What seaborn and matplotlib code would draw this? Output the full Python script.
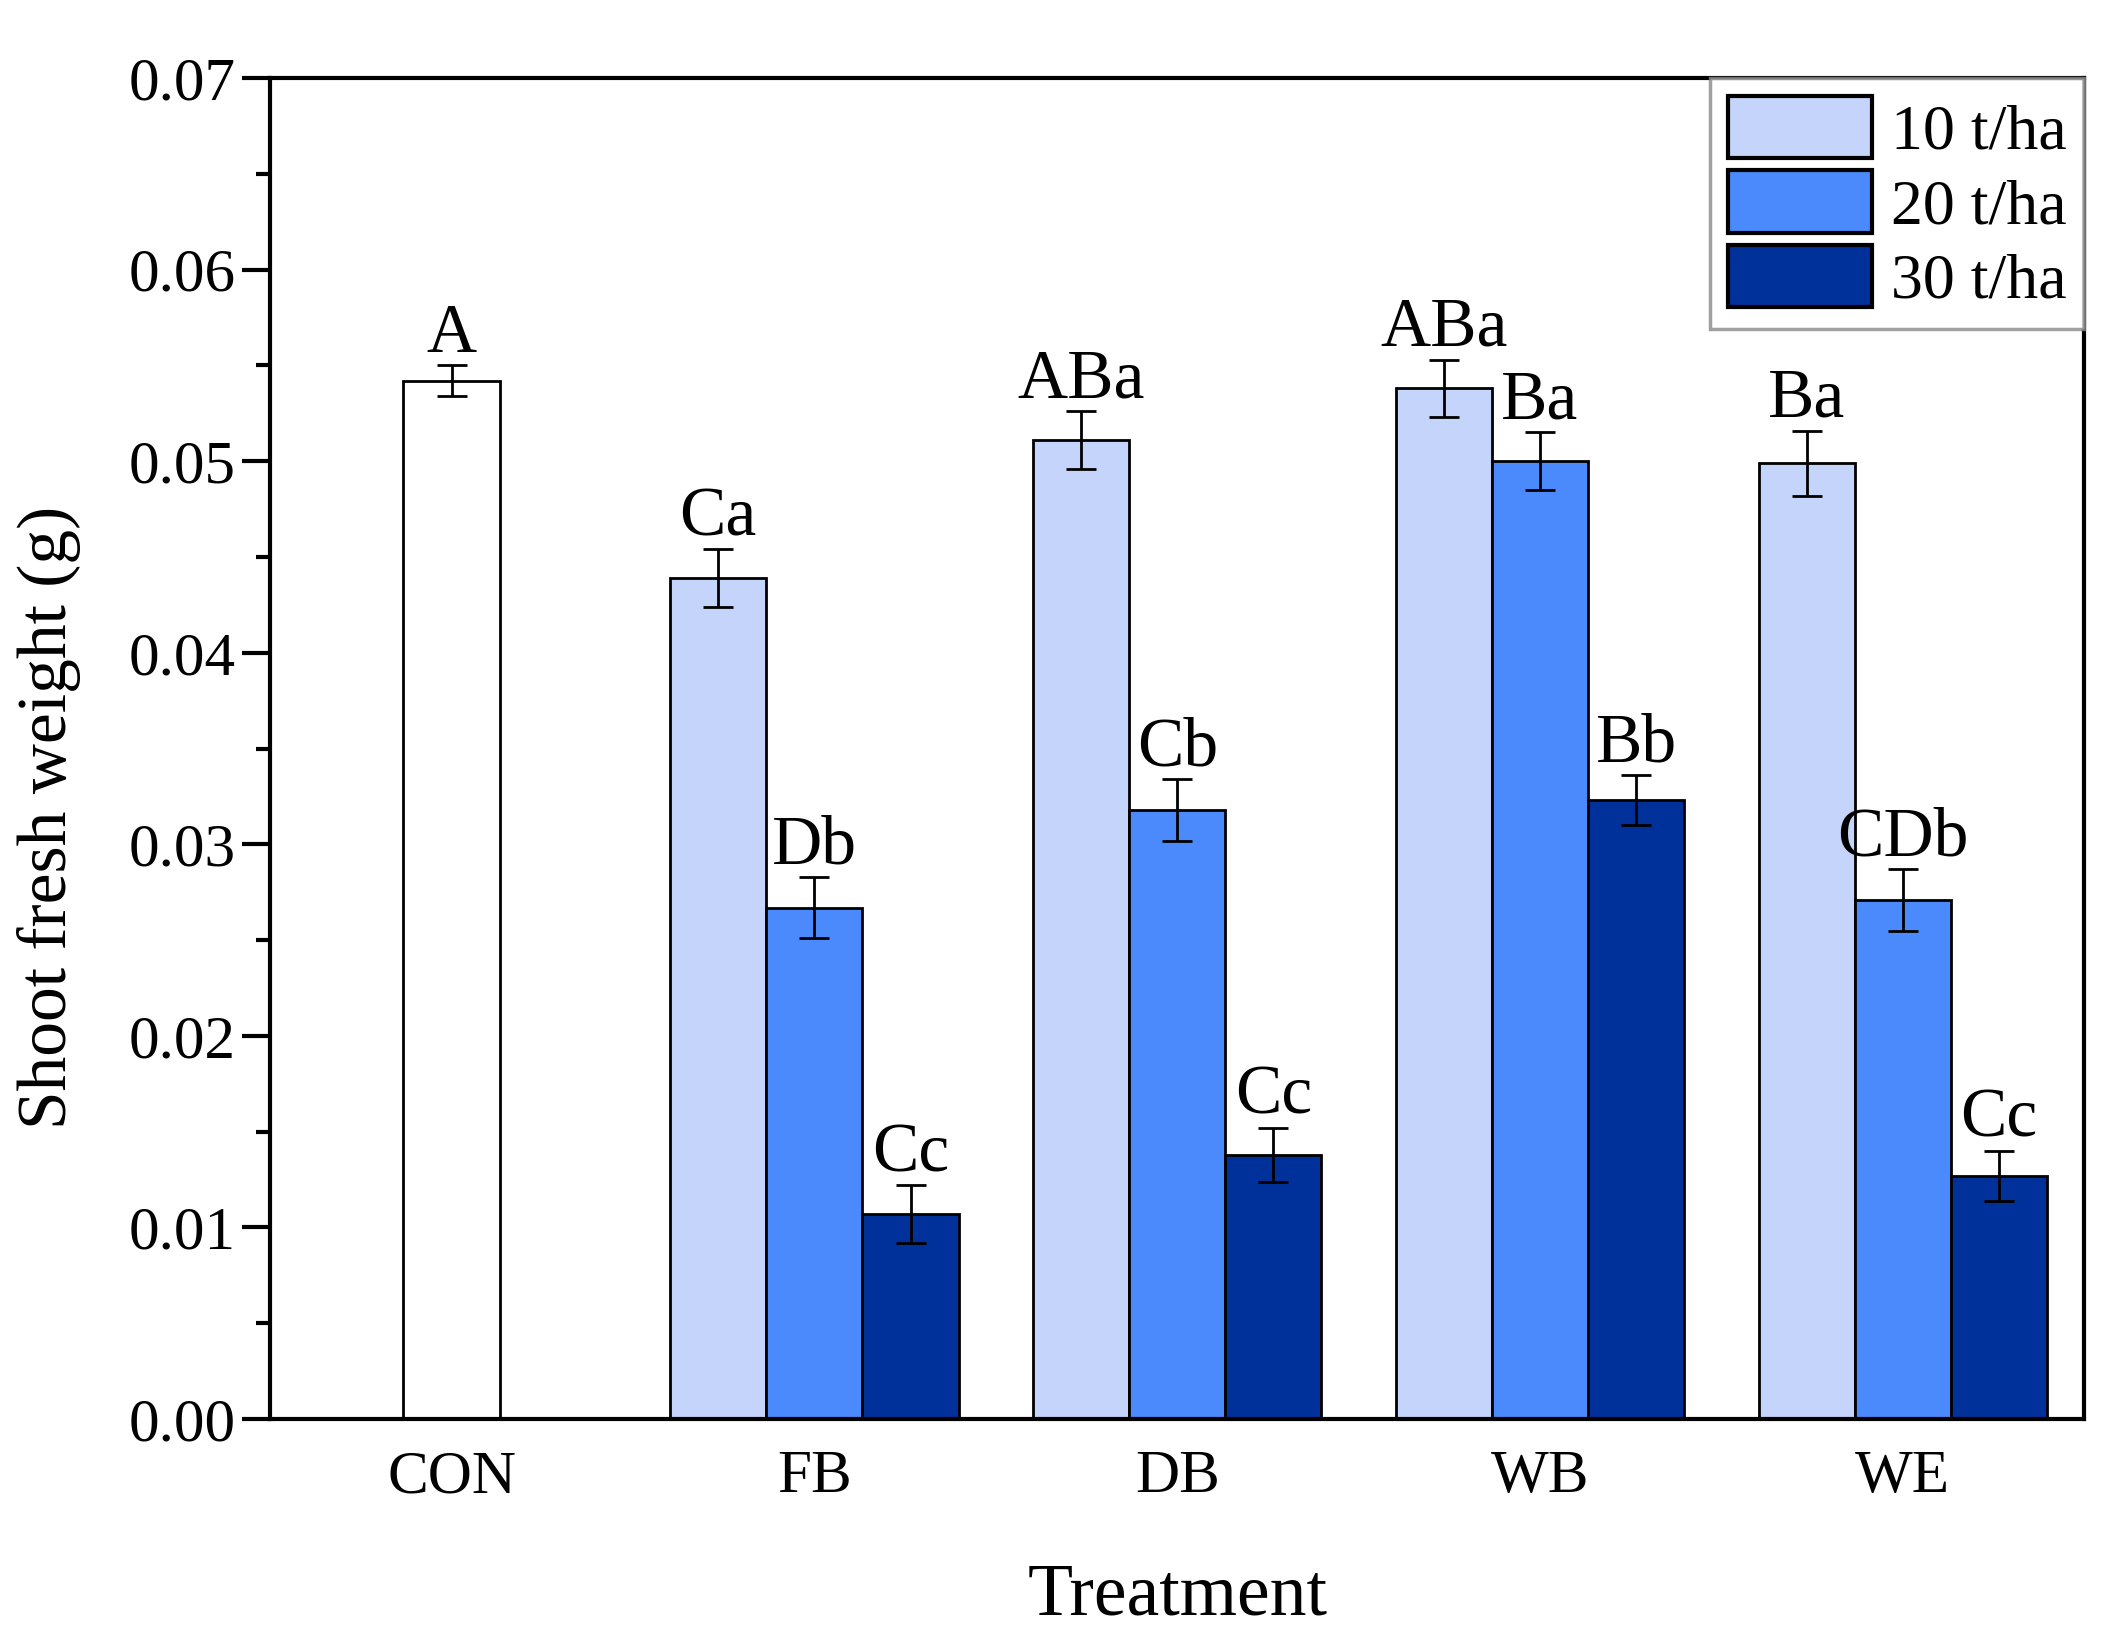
import pandas as pd
import seaborn as sns
import matplotlib.pyplot as plt
from matplotlib.ticker import MultipleLocator, FormatStrFormatter

# data
treatments = ["CON", "FB", "DB", "WB", "WE"]
rates = ["10 t/ha", "20 t/ha", "30 t/ha"]
groups = ["FB", "DB", "WB", "WE"]

con_mean = [0.0542]
con_sd = [0.0008]
con_letter = ["A"]

mean_10 = [0.0439, 0.0511, 0.0538, 0.0499]
mean_20 = [0.0267, 0.0318, 0.0500, 0.0271]
mean_30 = [0.0107, 0.0138, 0.0323, 0.0127]
sd_10 = [0.0015, 0.0015, 0.0015, 0.0017]
sd_20 = [0.0016, 0.0016, 0.0015, 0.0016]
sd_30 = [0.0015, 0.0014, 0.0013, 0.0013]
letters_10 = ["Ca", "ABa", "ABa", "Ba"]
letters_20 = ["Db", "Cb", "Ba", "CDb"]
letters_30 = ["Cc", "Cc", "Bb", "Cc"]

colors = ["#C5D4FA", "#4A8AFC", "#00309A"]

means = [mean_10, mean_20, mean_30]
sds = [sd_10, sd_20, sd_30]
letters = [letters_10, letters_20, letters_30]

df = pd.DataFrame({
    "treatment": groups * 3,
    "rate": [r for r in rates for _ in groups],
    "weight": mean_10 + mean_20 + mean_30,
})
con_df = pd.DataFrame({"treatment": ["CON"], "weight": con_mean})

sns.set_style("ticks")
plt.rcParams["font.family"] = ["Liberation Serif", "DejaVu Serif"]
for key in ["text.color", "axes.labelcolor", "xtick.color", "ytick.color", "axes.edgecolor"]:
    plt.rcParams[key] = "black"

fig = plt.figure(figsize=(21.15, 16.43), dpi=100)
ax = fig.add_axes([0.1277, 0.1363, 0.8578, 0.8162])

sns.barplot(data=df, x="treatment", y="weight", hue="rate", order=treatments,
            hue_order=rates, palette=colors, saturation=1, width=0.795,
            edgecolor="black", linewidth=2, errorbar=None, ax=ax)
leg_old = ax.get_legend()
handles = leg_old.legend_handles
labels = [t.get_text() for t in leg_old.get_texts()]

sns.barplot(data=con_df, x="treatment", y="weight", order=treatments,
            color="white", saturation=1, width=0.265, edgecolor="black",
            linewidth=2, errorbar=None, ax=ax)

# error bars and letters
def add_marks(bars, sd_list, lab_list):
    for bar, sd, lab in zip(bars, sd_list, lab_list):
        xc = bar.get_x() + bar.get_width() / 2
        h = bar.get_height()
        ax.errorbar(xc, h, yerr=sd, fmt="none", ecolor="black",
                    elinewidth=2, capsize=11, capthick=2, zorder=5)
        ax.annotate(lab, (xc, h + sd), xytext=(0, 10), textcoords="offset points",
                    ha="center", va="baseline", fontsize=50)

for cont, sd_list, lab_list in zip(ax.containers[:3], sds, letters):
    add_marks(cont, sd_list, lab_list)
add_marks(ax.containers[3], con_sd, con_letter)

ax.set_xlim(-0.5, 4.5)
ax.set_ylim(0, 0.07)
ax.yaxis.set_major_locator(MultipleLocator(0.01))
ax.yaxis.set_minor_locator(MultipleLocator(0.005))
ax.yaxis.set_major_formatter(FormatStrFormatter("%.2f"))
ax.tick_params(axis="y", which="major", length=20, width=3, labelsize=44, pad=5)
ax.tick_params(axis="y", which="minor", length=10, width=3)
ax.tick_params(axis="x", length=0, labelsize=44, pad=22)

for side in ["left", "right", "top", "bottom"]:
    ax.spines[side].set_visible(True)
    ax.spines[side].set_linewidth(3)
    ax.spines[side].set_color("black")

ax.set_xlabel("Treatment", fontsize=53, labelpad=42)
ax.set_ylabel("Shoot fresh weight (g)", fontsize=50)
ax.yaxis.set_label_coords(-0.104, 0.449)

for h, c in zip(handles, colors):
    h.set_facecolor(c)
    h.set_edgecolor("black")
    h.set_linewidth(3)
leg = ax.legend(handles, labels, loc="upper right", fontsize=46,
                frameon=True, fancybox=False, edgecolor="#888888",
                borderaxespad=0, borderpad=0.28, handlelength=2.25,
                handleheight=1.12, labelspacing=0.12, handletextpad=0.3)
leg.get_frame().set_linewidth(2.5)

fig.savefig("out.png", dpi=100, facecolor="white")
